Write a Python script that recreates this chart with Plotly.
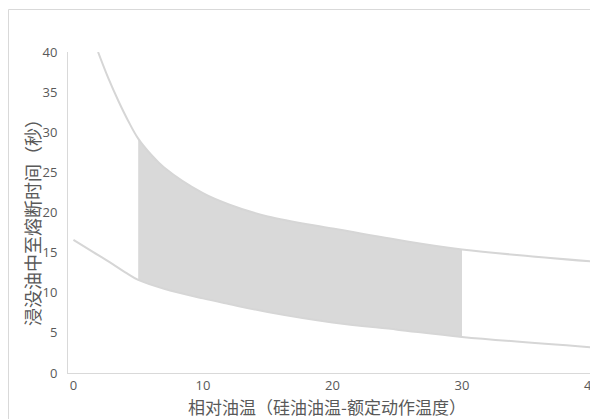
import plotly.graph_objects as go

# Upper boundary curve (seconds) vs relative oil temperature
upper_x = [1.9, 2.7, 3.5, 4.2, 5, 6, 7, 10, 12, 15, 20, 25, 30, 40]
upper_y = [40.0, 36.7, 33.8, 31.5, 29.2, 27.2, 25.6, 22.4, 21.0, 19.5, 18.0, 16.6, 15.4, 13.9]

# Lower boundary curve
lower_x = [0, 1.5, 3, 4, 5, 7, 10, 12, 15, 20, 25, 30, 40]
lower_y = [16.6, 15.1, 13.6, 12.55, 11.6, 10.5, 9.3, 8.6, 7.6, 6.3, 5.4, 4.5, 3.2]

# Shaded band limits
band_start = 5
band_end = 30

x_ticks = [0, 10, 20, 30, 40]
y_ticks = [0, 5, 10, 15, 20, 25, 30, 35, 40]

x_title = "相对油温（硅油油温-额定动作温度）"
y_title = "浸没油中至熔断时间（秒）"

LINE = "#d6d6d6"
FILL = "#d9d9d9"
TEXT = "#595959"
FONT = "Noto Sans CJK SC, Open Sans, sans-serif"

def sub(xs, ys):
    pts = [(a, b) for a, b in zip(xs, ys) if band_start <= a <= band_end]
    return [p[0] for p in pts], [p[1] for p in pts]

lbx, lby = sub(lower_x, lower_y)
ubx, uby = sub(upper_x, upper_y)

fig = go.Figure()
fig.add_trace(go.Scatter(x=lbx, y=lby, mode="lines", line=dict(width=0, shape="spline"),
                         showlegend=False, hoverinfo="skip"))
fig.add_trace(go.Scatter(x=ubx, y=uby, mode="lines", line=dict(width=0, shape="spline"),
                         fill="tonexty", fillcolor=FILL, showlegend=False, hoverinfo="skip"))
fig.add_trace(go.Scatter(x=upper_x, y=upper_y, mode="lines",
                         line=dict(color=LINE, width=2, shape="spline"), showlegend=False))
fig.add_trace(go.Scatter(x=lower_x, y=lower_y, mode="lines",
                         line=dict(color=LINE, width=2, shape="spline"), showlegend=False))

# Page body adds an 8px margin, so the figure is 8px smaller than the window
fig.update_layout(
    width=590, height=411,
    margin=dict(l=60, r=0, t=44, b=46, autoexpand=False),
    paper_bgcolor="white", plot_bgcolor="white",
    font=dict(family=FONT, color=TEXT, size=13),
    xaxis=dict(range=[-0.42, 40.5], tickvals=x_ticks, showgrid=False, zeroline=False,
               showline=True, linecolor="#d9d9d9", linewidth=1, ticks="",
               automargin=False, ticklabelstandoff=0, ticklabeloverflow="allow",
               tickfont=dict(size=13, color=TEXT, family="Open Sans, sans-serif")),
    yaxis=dict(range=[0, 40], tickvals=y_ticks, showgrid=False, zeroline=False,
               showline=True, linecolor="#d9d9d9", linewidth=1, ticks="",
               automargin=False, ticklabelstandoff=7,
               tickfont=dict(size=13, color=TEXT, family="Open Sans, sans-serif")),
    annotations=[
        dict(text=x_title, xref="paper", yref="paper", x=0.4887, y=(373 - 406.5) / 321,
             xanchor="center", yanchor="middle", showarrow=False,
             font=dict(size=17, color=TEXT, family=FONT)),
        dict(text=y_title, xref="paper", yref="paper", x=(32 - 68) / 530, y=(373 - 218) / 321,
             xanchor="center", yanchor="middle", showarrow=False, textangle=-90,
             font=dict(size=18, color=TEXT, family=FONT)),
    ],
    shapes=[dict(type="rect", xref="paper", yref="paper",
                 x0=(8.5 - 68) / 530, x1=1.2, y0=-0.3, y1=(373 - 9.5) / 321,
                 line=dict(color="#d9d9d9", width=1), fillcolor="rgba(0,0,0,0)", layer="below")],
)

fig.write_html("out.html")
